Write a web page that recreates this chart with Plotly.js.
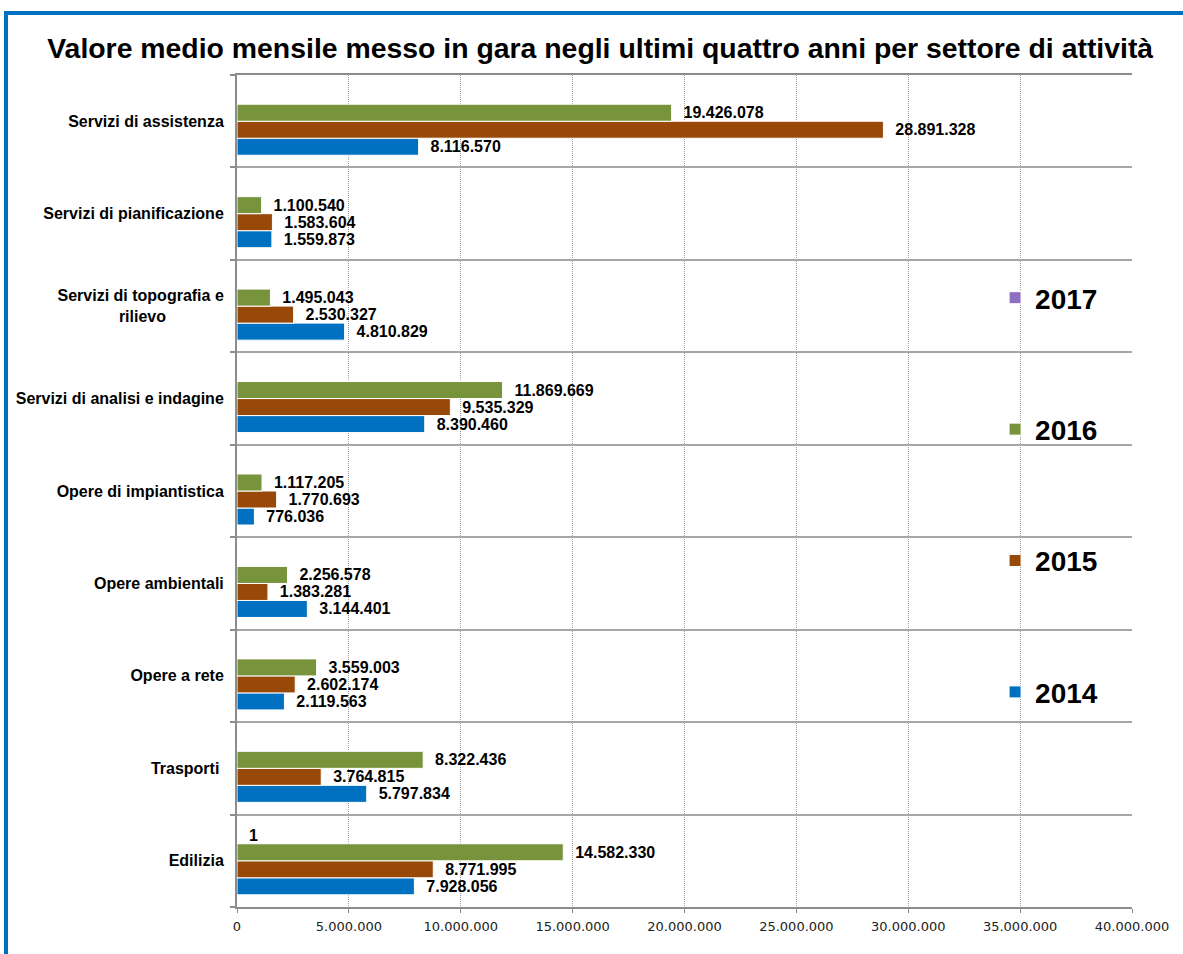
<!DOCTYPE html>
<html>
<head>
<meta charset="utf-8">
<script src="https://cdn.plot.ly/plotly-3.0.1.min.js"></script>
<style>
  html, body { margin: 0; padding: 0; background: #fff; overflow: hidden; }
  #wrap { position: absolute; left: 4px; top: 11px; border-left: 4px solid #0070c0; border-top: 4px solid #0070c0; }
  #chart { width: 1175px; height: 939px; }
</style>
</head>
<body>
<div id="wrap"><div id="chart"></div></div>
<script>
// categories, bottom to top as drawn on the axis
var settori = [
    'Edilizia',
    'Trasporti\u00a0',
    'Opere a rete',
    'Opere ambientali',
    'Opere di impiantistica',
    'Servizi di analisi e indagine',
    'Servizi di topografia e<br>rilievo' + '\u00a0'.repeat(13),
    'Servizi di pianificazione',
    'Servizi di assistenza'
];

var anni = ['2014', '2015', '2016', '2017'];

var valori2014 = [7928056, 5797834, 2119563, 3144401, 776036, 8390460, 4810829, 1559873, 8116570];
var valori2015 = [8771995, 3764815, 2602174, 1383281, 1770693, 9535329, 2530327, 1583604, 28891328];
var valori2016 = [14582330, 8322436, 3559003, 2256578, 1117205, 11869669, 1495043, 1100540, 19426078];
var valori2017 = [1, null, null, null, null, null, null, null, null];

var colori = ['#0070c0', '#984807', '#77933c', '#8f6fc1'];

var serie = [valori2014, valori2015, valori2016, valori2017];

var data = serie.map(function (vals, i) {
    return {
        type: 'bar',
        orientation: 'h',
        name: anni[i],
        legendgroup: anni[i],
        legendrank: serie.length - i,
        x: vals,
        y: settori,
        marker: { color: colori[i], line: { color: '#ffffff', width: 1 } },
        texttemplate: '\u00a0\u00a0%{x:,d}',
        textposition: 'outside',
        cliponaxis: false,
        textfont: { family: 'Liberation Sans, Arial, sans-serif', size: 16, color: '#000', weight: 'bold' },
        hoverinfo: 'x+name'
    };
});

var layout = {
    width: 1175,
    height: 939,
    separators: ',.',
    paper_bgcolor: '#ffffff',
    plot_bgcolor: '#ffffff',
    font: { family: 'Liberation Sans, Arial, sans-serif', color: '#000' },
    margin: { l: 229, r: 51, t: 60, b: 47 },
    title: {
        text: 'Valore medio mensile messo in gara negli ultimi quattro anni per settore di attività',
        font: { size: 28.4, weight: 'bold', color: '#000' },
        x: 0.504,
        xanchor: 'center',
        y: 1 - 33 / 939,
        yanchor: 'middle'
    },
    barmode: 'group',
    bargap: 0.264,
    bargroupgap: 0,
    xaxis: {
        range: [0, 40000000],
        dtick: 5000000,
        tickformat: ',d',
        showgrid: true,
        gridcolor: '#9a9a9a',
        griddash: '1px,1px',
        gridwidth: 1,
        zeroline: false,
        showline: true,
        mirror: true,
        linecolor: '#8c8c8c',
        linewidth: 2,
        ticks: 'outside',
        ticklen: 4,
        tickwidth: 1,
        tickcolor: '#8c8c8c',
        ticklabelstandoff: 2,
        tickfont: { family: 'DejaVu Sans, sans-serif', size: 13, color: '#222' }
    },
    yaxis: {
        type: 'category',
        tickson: 'boundaries',
        showgrid: true,
        gridcolor: '#a6a6a6',
        gridwidth: 2,
        showline: true,
        linecolor: '#8c8c8c',
        linewidth: 2,
        ticks: 'outside',
        ticklen: 5,
        tickwidth: 2,
        tickcolor: '#8c8c8c',
        ticklabelstandoff: 8,
        tickfont: { size: 16, weight: 'bold', color: '#000' }
    },
    legend: {
        traceorder: 'grouped',
        tracegroupgap: 92,
        x: 0.847,
        xanchor: 'left',
        y: 0.762,
        yanchor: 'top',
        bgcolor: 'rgba(0,0,0,0)',
        font: { size: 28, weight: 'bold', color: '#000' }
    },
    showlegend: true
};

Plotly.newPlot('chart', data, layout, { displayModeBar: false });
</script>
</body>
</html>
